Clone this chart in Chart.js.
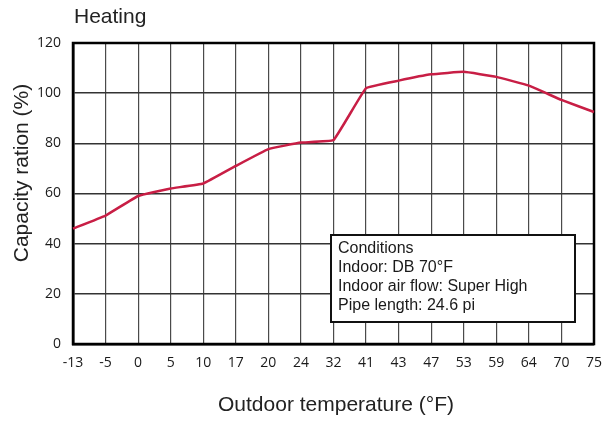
<!DOCTYPE html>
<html>
<head>
<meta charset="utf-8">
<script src="https://cdn.jsdelivr.net/npm/chart.js@4.4.1/dist/chart.umd.min.js"></script>
<style>
  html, body { margin: 0; padding: 0; background: #fff; }
</style>
</head>
<body>
<canvas id="chart" width="613" height="421"></canvas>
<script>
// Data
const temps = ['-13', '-5', '0', '5', '10', '17', '20', '24', '32', '41', '43', '47', '53', '59', '64', '70', '75'];
const capacity = [46, 51.2, 59, 62, 64, 71, 77.7, 80.3, 81.3, 102, 105, 107.5, 108.5, 106.5, 103, 97.3, 92.5];
const yMin = 0, yMax = 120, yStep = 20;
const chartTitle = 'Heating';
const xTitle = 'Outdoor temperature (°F)';
const yTitle = 'Capacity ration (%)';
const conditions = ['Conditions', 'Indoor: DB 70°F', 'Indoor air flow: Super High', 'Pipe length: 24.6 pi'];

const textFont = '"Liberation Sans", Arial, sans-serif';
const tickFont = { family: '"Open Sans", "Liberation Sans", sans-serif', size: 14 };

// Frame, titles and the conditions box
const decorations = {
    id: 'decorations',
    beforeDatasetsDraw(chart) {
        const { ctx, chartArea: a } = chart;
        ctx.save();
        ctx.strokeStyle = '#000';
        ctx.lineWidth = 2.5;
        ctx.strokeRect(a.left, a.top, a.right - a.left, a.bottom - a.top);
        ctx.restore();
    },
    afterDatasetsDraw(chart) {
        const { ctx } = chart;
        const bx = 331, by = 235, bw = 244, bh = 87;
        ctx.save();
        ctx.fillStyle = '#fff';
        ctx.fillRect(bx, by, bw, bh);
        ctx.strokeStyle = '#111';
        ctx.lineWidth = 2;
        ctx.strokeRect(bx, by, bw, bh);
        ctx.fillStyle = '#1a1a1a';
        ctx.font = '16px ' + textFont;
        ctx.textBaseline = 'middle';
        ctx.textAlign = 'left';
        conditions.forEach((line, i) => {
            ctx.fillText(line, bx + 7, by + 14 + i * 19);
        });
        ctx.restore();
    },
    afterDraw(chart) {
        const { ctx } = chart;
        ctx.save();
        ctx.fillStyle = '#222';
        ctx.font = '21px ' + textFont;
        ctx.textBaseline = 'middle';
        ctx.textAlign = 'left';
        ctx.fillText(chartTitle, 74, 17);
        ctx.textAlign = 'center';
        ctx.fillText(xTitle, 336, 405);
        ctx.translate(22, 173);
        ctx.rotate(-Math.PI / 2);
        ctx.fillText(yTitle, 0, 0);
        ctx.restore();
    }
};

new Chart(document.getElementById('chart'), {
    type: 'line',
    data: {
        labels: temps,
        datasets: [{
            label: 'Capacity',
            data: capacity,
            borderColor: '#c81e45',
            borderWidth: 2.5,
            pointRadius: 0,
            tension: 0.08,
            fill: false
        }]
    },
    options: {
        responsive: false,
        animation: false,
        devicePixelRatio: 1,
        layout: { padding: { top: 43, right: 18, left: 0, bottom: 0 } },
        plugins: {
            legend: { display: false },
            tooltip: { enabled: false }
        },
        scales: {
            x: {
                type: 'category',
                offset: false,
                afterFit(scale) { scale.height = 77; },
                grid: { color: '#4a4a4a', lineWidth: 1.2, drawTicks: false },
                border: { color: '#000', width: 2.5 },
                ticks: { color: '#1a1a1a', font: tickFont, padding: 11, maxRotation: 0, autoSkip: false }
            },
            y: {
                min: yMin,
                max: yMax,
                afterFit(scale) { scale.width = 73; },
                grid: { color: '#333', lineWidth: 1.4, drawTicks: false },
                border: { color: '#000', width: 2.5 },
                ticks: { stepSize: yStep, color: '#1a1a1a', font: tickFont, padding: 12 }
            }
        }
    },
    plugins: [decorations]
});
</script>
</body>
</html>
